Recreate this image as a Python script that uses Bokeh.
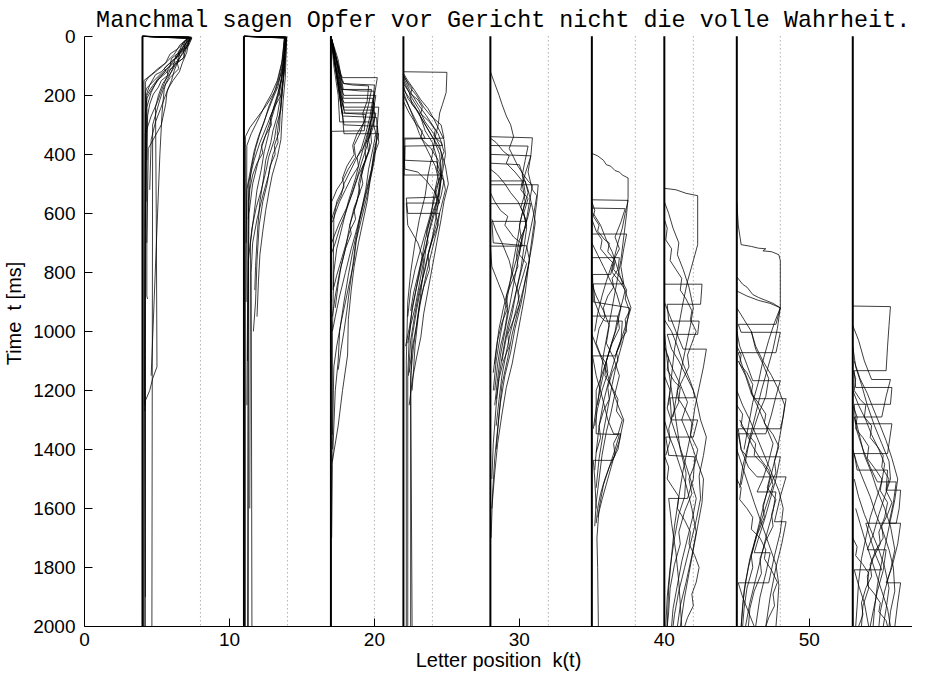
from bokeh.plotting import figure
from bokeh.models import Range1d, SingleIntervalTicker
from bokeh.core.properties import value
from bokeh.embed import file_html
from bokeh.resources import INLINE

# ---------------- data ----------------
sentence = "Manchmal sagen Opfer vor Gericht nicht die volle Wahrheit."
sentence_start_k = 0.8           # letter position where the printed sentence begins
word_centers = [4, 11, 17, 22, 28, 35, 40, 45, 53]
space_positions = [8, 14, 20, 24, 32, 38, 42, 48]
x_tick_interval = 10
y_tick_interval = 200
t_max = 2000
k_max = 57.12

# each path: list of (letter position k, time t [ms]) pairs
paths_manchmal = [
    [(4,0),(7.3,3),(7.0,25),(6.6,50),(6.2,80),(5.8,105),(5.2,140),(4.7,175),(4.3,210),(4.2,260),(4.15,900),(4.1,2000)],
    [(4,0),(7.4,6),(7.2,30),(6.8,45),(6.9,70),(6.3,95),(6.0,120),(5.4,160),(5.1,200),(4.9,240),(4.95,600),(5.0,1120),(4.7,1160),(4.5,1200),(4.2,1235),(4.15,1270)],
    [(4,0),(7.2,2),(6.8,20),(6.5,55),(6.0,75),(5.9,100),(5.3,125),(4.8,150),(4.3,175),(4.2,190),(4.2,2000)],
    [(4,0),(7.3,5),(7.1,35),(6.7,60),(6.4,90),(6.5,110),(5.9,140),(5.5,170),(5.2,215),(4.7,300),(4.65,2000)],
    [(4,0),(7.1,4),(6.9,40),(6.3,65),(6.1,105),(5.6,125),(5.0,150),(4.6,190),(4.3,240),(4.3,880),(4.35,890)],
    [(4,0),(7.3,3),(6.6,28),(6.2,60),(5.7,85),(5.4,100),(4.9,120),(4.4,140),(4.2,155),(4.15,1250)],
    [(4,0),(7.35,8),(7.15,18),(6.9,50),(6.5,78),(6.2,115),(6.0,150),(5.7,185),(5.6,230),(5.3,300),(4.4,380),(4.3,700)],
    [(4,0),(7.2,6),(6.9,30),(6.4,70),(5.8,95),(5.3,120),(4.9,130),(4.5,165),(4.25,200),(4.2,650)],
    [(4,0),(7.3,4),(7.0,45),(6.8,75),(6.2,95),(5.9,130),(5.6,160),(5.5,180),(5.4,230),(5.35,260),(5.2,400),(4.6,1150)],
    [(4,0),(7.4,3),(7.3,15),(6.95,35),(6.55,60),(6.45,85),(5.95,110),(5.65,140),(5.3,185),(5.05,220),(4.6,270),(4.2,330),(4.2,1900)],
    [(4,0),(7.15,5),(6.7,30),(6.35,45),(5.9,60),(5.6,90),(5.05,110),(4.6,130),(4.1,150),(4.1,2000)],
    [(4,0),(7.25,7),(7.05,55),(6.75,90),(6.55,120),(6.1,150),(5.8,175),(5.55,205),(5.25,245),(4.9,290),(4.6,350),(4.5,520)],
    [(4,0),(7.3,4),(7.1,20),(6.85,28),(6.95,42),(6.6,58),(6.3,70),(6.45,82),(6.0,96),(5.7,118),(5.75,132),(5.3,150),(5.1,172),(4.75,196),(4.5,230),(4.35,270),(4.3,420)],
    [(4,0),(7.2,3),(6.95,15),(6.75,38),(6.45,52),(6.55,66),(6.1,80),(5.85,92),(5.5,108),(5.6,118),(5.15,138),(4.85,158),(4.55,178),(4.3,200),(4.25,560)],
]

paths_sagen = [
    [(11,0),(13.9,3),(13.8,60),(13.6,120),(13.2,180),(12.6,230),(12.0,270),(11.4,310),(11.1,340),(11.1,2000)],
    [(11,0),(13.85,5),(13.75,80),(13.55,150),(13.3,200),(13.0,250),(12.6,300),(12.1,360),(11.7,420),(11.3,500),(11.3,2000)],
    [(11,0),(13.95,2),(13.85,90),(13.7,160),(13.55,230),(13.4,290),(13.3,330),(13.35,360),(13.0,400),(12.7,470),(12.3,540),(11.9,620),(11.6,700),(11.5,800),(11.55,2000)],
    [(11,0),(13.8,4),(13.7,70),(13.4,140),(13.1,190),(12.7,240),(12.4,290),(12.1,330),(11.8,380),(11.5,450),(11.3,560),(11.2,1250)],
    [(11,0),(13.9,6),(13.8,100),(13.65,170),(13.5,260),(13.45,320),(13.1,370),(13.15,400),(12.8,440),(12.6,500),(12.3,560),(12.05,640),(11.9,760),(11.8,900),(11.65,1000)],
    [(11,0),(13.85,3),(13.7,110),(13.5,180),(13.2,230),(12.9,280),(12.7,330),(12.4,390),(12.2,450),(11.9,520),(11.7,600),(11.45,700),(11.4,1600)],
    [(11,0),(13.9,4),(13.75,130),(13.5,210),(13.3,270),(13.0,320),(12.85,360),(12.5,420),(12.35,480),(12.1,560),(11.95,650),(11.8,780),(11.75,860)],
    [(11,0),(13.8,5),(13.6,90),(13.3,150),(12.9,195),(12.5,230),(12.15,265),(11.8,300),(11.5,330),(11.2,370),(11.15,900)],
    [(11,0),(13.95,3),(13.85,140),(13.7,220),(13.6,300),(13.55,350),(13.3,410),(12.95,470),(12.75,520),(12.5,590),(12.3,660),(12.1,740),(12.0,830),(11.9,950)],
    [(11,0),(13.9,2),(13.7,120),(13.4,190),(13.0,250),(12.8,290),(12.45,340),(12.2,380),(11.95,430),(11.6,500),(11.35,600),(11.25,1100)],
    [(11,0),(13.85,6),(13.7,150),(13.55,250),(13.25,300),(13.1,350),(12.7,410),(12.55,450),(12.2,520),(11.85,580),(11.55,650),(11.3,760),(11.25,2000)],
    [(11,0),(13.8,3),(13.6,110),(13.35,170),(13.0,210),(12.6,260),(12.3,300),(12.0,340),(11.7,390),(11.5,440),(11.2,520),(11.15,700)],
    [(11,0),(13.9,4),(13.8,50),(13.7,95),(13.6,140),(13.4,185),(13.5,205),(13.1,240),(12.8,275),(12.9,300),(12.5,335),(12.2,370),(12.3,395),(11.9,430),(11.6,470),(11.4,520),(11.3,620)],
]

paths_opfer = [
    [(17,0),(17.3,60),(17.7,130),(17.8,140),(20.2,140),(20.0,200),(19.8,280),(19.4,350),(19.0,420),(18.7,480),(18.2,560),(17.8,640),(17.4,720),(17.2,800),(17.1,1000)],
    [(17,0),(17.35,70),(17.75,150),(17.85,160),(20.0,165),(19.9,230),(19.7,300),(19.8,360),(19.3,430),(19.0,500),(18.8,560),(18.3,640),(18.0,720),(17.6,800),(17.3,880),(17.1,950)],
    [(17,0),(17.4,90),(17.8,190),(17.9,200),(20.1,200),(19.9,260),(19.6,320),(19.35,380),(19.4,420),(18.9,470),(18.5,530),(18.1,580),(17.6,630),(17.2,680),(17.05,700)],
    [(17,0),(17.3,100),(17.7,200),(17.9,225),(20.0,225),(19.95,300),(20.1,330),(19.9,380),(19.6,450),(19.4,520),(19.1,590),(18.8,660),(18.5,730),(18.2,810),(17.9,900),(17.6,1000),(17.5,1100),(17.3,1200),(17.1,1450),(17.05,1700)],
    [(17,0),(17.5,110),(17.85,230),(17.9,250),(19.9,250),(19.8,310),(19.5,370),(19.1,430),(18.8,480),(18.4,540),(18.0,600),(17.6,650),(17.3,700),(17.0,740)],
    [(17,0),(17.35,120),(17.7,240),(17.8,270),(20.15,275),(20.2,330),(20.0,420),(19.7,490),(19.5,560),(19.2,630),(18.9,700),(18.6,780),(18.4,860),(18.2,960),(18.15,1080),(17.8,1200),(17.5,1320),(17.1,1440)],
    [(17,0),(17.2,100),(17.5,200),(17.6,290),(19.7,290),(19.6,340),(19.2,380),(18.8,410),(18.9,440),(18.4,480),(18.0,520),(17.6,560),(17.3,600),(17.1,630)],
    [(17,0),(17.45,90),(17.8,180),(17.85,210),(19.9,210),(19.7,270),(19.4,330),(19.1,380),(18.7,420),(18.2,470),(17.9,500),(17.7,540),(17.3,580),(17.05,620)],
    [(17,0),(17.4,120),(17.8,260),(19.4,265),(19.3,320),(17.05,322),(17.05,900)],
    [(17,0),(17.3,110),(17.7,210),(17.85,240),(20.3,240),(20.2,300),(20.3,360),(20.0,400),(19.8,460),(19.5,540),(19.1,620),(18.7,700),(18.5,780),(18.3,850),(18.1,930),(17.9,1000),(17.7,1060),(17.5,1130)],
    [(17,0),(17.4,130),(17.75,250),(17.9,300),(20.2,305),(20.1,370),(19.85,440),(19.6,500),(19.3,560),(19.0,620),(18.75,690),(18.6,760),(18.3,830),(18.0,900),(17.7,970),(17.4,1050),(17.2,1120),(17.1,1400)],
    [(17,0),(17.3,90),(17.65,170),(17.7,180),(19.8,180),(19.6,230),(19.35,280),(19.0,330),(18.6,370),(18.7,410),(18.2,450),(17.8,490),(17.4,520),(17.15,550),(17.05,560)],
    [(17,0),(17.4,140),(17.8,270),(17.9,330),(20.3,330),(20.0,380),(19.8,450),(19.45,520),(19.15,580),(18.8,650),(18.4,720),(18.0,800),(17.6,880),(17.3,950),(17.1,1000),(17.1,1350)],
    [(17,0),(17.25,50),(17.55,120),(17.9,160),(18.5,165),(19.6,168),(19.5,220),(19.2,260),(19.3,290),(18.8,330),(18.5,370),(18.6,400),(18.1,440),(17.8,480),(17.9,510),(17.4,560),(17.2,620),(17.15,860)],
    [(17,0),(17.5,80),(17.85,180),(19.0,185),(20.0,186),(19.9,240),(20.05,270),(19.75,320),(19.5,360),(19.6,390),(19.2,440),(18.9,500),(19.0,530),(18.6,580),(18.3,640),(18.4,670),(18.0,720),(17.7,780),(17.5,840),(17.3,920)],
    [(17,0),(17.4,100),(17.75,220),(17.95,260),(20.1,260),(19.9,310),(19.6,350),(19.7,380),(19.4,420),(19.1,470),(19.2,500),(18.9,540),(18.6,590),(18.7,620),(18.3,660),(18.0,710),(17.7,760),(17.4,810),(17.2,850)],
]

paths_vor = [
    [(22,120),(25.0,122),(24.95,190),(24.7,230),(24.5,260),(24.4,300),(24.2,340),(24.0,400),(23.7,470),(23.5,540),(23.1,620),(22.8,700),(22.5,800),(22.3,900),(22.2,1100),(22.2,2000)],
    [(22,125),(22.3,150),(22.8,185),(23.2,215),(23.7,245),(24.1,280),(24.5,320),(24.8,350),(24.9,400),(24.7,460),(24.5,520),(24.2,590),(23.8,660),(23.4,740),(23.0,830),(22.6,920),(22.4,1020),(22.3,1150),(22.3,2000)],
    [(22,130),(22.4,170),(22.9,200),(23.4,240),(23.9,270),(24.6,300),(24.8,345),(22.1,348),(22.1,420),(24.3,425),(24.6,470),(24.5,530),(24.3,600),(24.0,680),(23.6,760),(23.2,850),(22.9,930),(22.6,1020),(22.5,1200),(22.5,2000)],
    [(22,140),(22.5,190),(23.0,230),(23.6,270),(24.0,300),(24.4,330),(24.7,370),(22.1,372),(22.05,470),(24.7,470),(24.9,520),(24.6,580),(24.2,650),(23.8,720),(23.5,790),(23.1,860),(22.8,940),(22.5,1030),(22.35,1150)],
    [(22,150),(22.6,210),(23.1,250),(23.5,290),(24.1,330),(24.5,370),(24.7,420),(24.6,480),(24.4,545),(22.2,548),(22.3,600),(24.5,600),(24.3,660),(24.0,720),(23.6,800),(23.3,870),(23.0,950),(22.7,1050),(22.5,1150),(22.6,2000)],
    [(22,160),(22.4,190),(22.6,230),(23.1,260),(23.5,320),(24.0,360),(24.3,410),(24.4,470),(24.1,540),(23.9,610),(23.5,690),(23.2,770),(22.9,850),(22.6,930),(22.4,990),(22.15,1050)],
    [(22,180),(22.7,230),(23.4,290),(24.0,340),(24.6,390),(24.9,440),(25.1,500),(24.8,560),(24.6,620),(24.3,700),(24.0,780),(23.7,860),(23.4,940),(23.2,1020),(22.9,1090),(22.6,1170),(22.4,1250)],
    [(22,200),(22.5,250),(23.0,300),(23.5,345),(22.0,345),(22.1,450),(23.0,460),(23.6,490),(24.2,530),(24.5,565),(22.2,565),(22.3,640),(23.0,700),(23.4,760),(23.1,840),(22.8,920),(22.5,980),(22.3,1040)],
    [(22,170),(22.3,210),(22.9,250),(23.5,300),(24.1,350),(24.5,400),(24.6,460),(24.3,520),(24.0,580),(23.6,650),(23.2,720),(22.8,790),(22.5,860),(22.3,950)],
    [(22,190),(22.4,240),(22.8,290),(23.1,330),(23.7,390),(24.2,440),(24.5,500),(24.3,560),(23.9,630),(23.6,700),(23.4,780),(23.2,870),(23.0,960),(22.8,1050),(22.7,1130),(22.6,1200)],
    [(22,135),(22.35,160),(22.6,175),(22.5,195),(23.0,215),(23.3,240),(23.2,262),(23.8,290),(24.2,318),(24.1,338),(24.6,360),(24.8,390),(24.5,430),(24.6,470),(24.2,520),(24.3,560),(23.9,610),(23.6,660),(23.7,700),(23.3,750),(23.0,810),(22.7,870),(22.5,930)],
    [(22,220),(22.4,260),(22.9,300),(23.3,320),(23.2,345),(23.9,380),(24.4,420),(24.3,450),(24.8,490),(24.6,540),(24.2,600),(24.4,640),(24.0,690),(23.7,740),(23.8,790),(23.4,850),(23.1,910),(22.9,980),(22.6,1060),(22.4,1140)],
]

paths_gericht = [
    [(28,120),(28.3,160),(28.6,200),(28.8,230),(29.1,270),(29.4,300),(29.6,340),(29.3,380),(29.6,410),(29.9,440),(30.3,470),(30.6,490),(30.9,505),(30.7,560),(30.5,620),(30.2,690),(29.9,760),(29.6,840),(29.3,920),(29.0,1000),(28.7,1080),(28.5,1160),(28.3,1250)],
    [(28,340),(30.9,344),(30.8,400),(30.6,460),(30.9,520),(31.2,540),(31.0,600),(30.7,670),(30.4,740),(30.0,820),(29.6,900),(29.2,980),(28.9,1060),(28.6,1150),(28.4,1250),(28.2,1380),(28.1,1500)],
    [(28,370),(30.6,372),(30.4,420),(30.2,470),(30.4,530),(30.1,580),(30.5,627),(28.1,627),(28.2,700),(30.5,710),(30.7,760),(30.4,830),(30.1,910),(29.7,990),(29.4,1070),(29.0,1150),(28.7,1240),(28.5,1330),(28.3,1430),(28.15,1550),(28.05,1700)],
    [(28,400),(30.8,405),(30.5,450),(30.2,500),(30.4,560),(30.1,620),(29.9,680),(29.6,760),(29.3,850),(29.0,930),(28.7,1010),(28.4,1100),(28.2,1200)],
    [(28,430),(30.0,435),(30.3,480),(30.6,520),(30.9,580),(31.1,630),(30.9,700),(30.6,780),(30.3,850),(29.9,930),(29.5,1010),(29.2,1090),(28.8,1180),(28.6,1280),(28.4,1400)],
    [(28,490),(30.4,490),(30.6,530),(30.3,580),(30.0,640),(30.2,711),(28.0,711),(28.1,780),(28.5,830),(28.9,880),(29.2,930),(29.0,990),(28.7,1050),(28.5,1110),(28.3,1200)],
    [(28,567),(30.8,567),(30.6,610),(30.3,660),(30.0,720),(29.6,790),(29.2,860),(28.9,920),(28.6,990),(28.4,1060),(28.2,1140)],
    [(28,503),(31.3,503),(31.2,560),(31.0,640),(30.8,710),(30.6,790),(30.4,870),(30.1,950),(29.8,1030),(29.5,1110),(29.1,1190),(28.8,1280),(28.5,1380),(28.3,1480),(28.1,1600)],
    [(28.1,620),(28.4,660),(28.8,700),(29.3,760),(29.6,820),(30.0,880),(29.7,940),(29.4,1000),(29.1,1070),(28.8,1150),(28.6,1230),(28.4,1320)],
    [(28,450),(28.5,470),(29.0,500),(29.4,530),(29.9,560),(30.3,600),(30.5,650),(30.3,720),(30.1,790),(29.8,860),(29.5,940),(29.1,1020),(28.8,1100)],
    [(28,345),(28.4,360),(28.9,390),(29.3,405),(29.1,430),(29.7,460),(30.2,490),(30.1,520),(30.6,550),(30.3,600),(30.5,640),(30.0,690),(29.8,740),(29.9,780),(29.5,830),(29.1,880),(29.2,920),(28.8,970),(28.5,1030),(28.3,1110)],
    [(28,530),(28.3,560),(28.7,590),(29.2,610),(29.0,640),(29.6,680),(30.1,700),(30.0,740),(30.5,770),(30.2,820),(29.9,870),(30.0,910),(29.6,960),(29.2,1010),(29.3,1050),(28.9,1100),(28.6,1160),(28.4,1230)],
]

paths_nicht = [
    [(35,397),(35.4,405),(35.8,420),(36.0,435),(36.3,440),(36.6,455),(36.9,460),(37.1,470),(37.5,480),(37.5,546),(37.4,600),(37.2,680),(37.0,760),(36.7,840),(36.4,920),(36.1,1000),(35.8,1080),(35.6,1160),(35.4,1250)],
    [(35,554),(37.5,556),(37.3,600),(37.1,650),(36.8,700),(36.5,760),(36.3,807),(35.05,807),(35.1,900),(37.6,920),(37.4,980),(37.1,1040),(36.7,1110),(36.4,1180),(36.1,1260),(35.8,1340),(35.5,1430),(35.3,1530)],
    [(35,582),(37.3,584),(37.0,630),(36.6,680),(36.9,720),(36.4,770),(36.0,830),(35.7,880),(35.4,940),(35.2,1000)],
    [(35,670),(37.4,670),(37.2,720),(37.0,780),(37.2,839),(35.1,839),(35.2,900),(35.6,950),(35.9,965),(37.1,965),(37.0,1040),(36.6,1083),(35.05,1083),(35.3,1150),(35.7,1220),(36.1,1300),(36.5,1347),(37.0,1347),(36.8,1400),(36.4,1437),(35.1,1437),(35.2,1500),(35.3,1600)],
    [(35.1,600),(35.6,640),(36.0,690),(36.4,730),(36.8,790),(37.2,850),(37.7,920),(37.4,970),(37.0,1030),(36.6,1090),(36.2,1160),(35.8,1240),(35.5,1320),(35.3,1410)],
    [(35,948),(36.8,948),(36.6,1000),(36.3,1050),(36.0,1100),(35.6,1160),(35.3,1200),(35.3,1347),(36.9,1350),(36.6,1400),(36.2,1460),(35.8,1520),(35.5,1600),(35.35,1700),(35.4,1800),(35.45,2000)],
    [(35,700),(35.4,740),(35.8,780),(36.3,830),(36.7,870),(37.0,920),(36.7,990),(36.3,1050),(35.9,1120),(35.6,1190),(35.3,1260),(35.1,1330)],
    [(35,840),(35.3,880),(35.8,930),(36.2,980),(36.0,1040),(36.5,1090),(36.9,1150),(36.6,1210),(36.3,1280),(36.0,1340),(35.7,1420),(35.5,1500),(35.3,1580),(35.2,1660)],
    [(35,1010),(35.4,1060),(35.9,1120),(36.3,1180),(36.8,1250),(37.2,1300),(36.9,1370),(36.5,1430),(36.1,1500),(35.7,1570),(35.4,1630)],
    [(35,620),(35.3,660),(35.7,690),(35.6,720),(36.1,750),(36.5,770),(36.4,800),(36.9,830),(37.3,860),(37.1,900),(36.8,950),(36.9,990),(36.4,1040),(36.0,1100),(36.1,1140),(35.7,1200),(35.4,1260),(35.2,1320)],
    [(35,560),(35.2,590),(35.1,610),(35.5,640),(35.4,660),(35.9,690),(36.2,700),(36.1,730),(36.6,760),(36.5,790),(37.0,820),(37.4,860),(37.3,890),(37.6,930),(37.3,960),(37.4,1000),(37.0,1030),(36.7,1070),(36.8,1100),(36.4,1140),(36.1,1190),(36.2,1230),(35.8,1270),(35.5,1320),(35.6,1360),(35.3,1410),(35.2,1470)],
    [(35,750),(36.9,750),(36.8,790),(36.4,820),(36.5,850),(36.1,880),(35.8,920),(35.9,950),(35.5,990),(35.3,1040),(35.6,1080),(36.0,1110),(35.9,1150),(36.4,1190),(36.8,1230),(36.7,1270),(37.1,1300),(36.8,1350),(36.5,1380),(36.6,1420),(36.2,1460),(35.9,1500),(35.6,1550),(35.4,1600),(35.3,1650)],
]

paths_die = [
    [(40,515),(40.8,520),(41.5,532),(42.3,540),(42.3,706),(42.0,760),(41.6,830),(41.3,900),(41.0,980),(40.7,1060),(40.5,1150),(40.3,1250)],
    [(40,560),(40.3,600),(40.6,650),(41.0,700),(40.9,740),(41.3,790),(41.7,850),(42.0,920),(41.8,980),(41.5,1050),(41.2,1120),(40.9,1200),(40.6,1290)],
    [(40,840),(42.6,840),(42.5,908),(40.2,908),(40.3,965),(42.4,965),(42.3,1010),(40.2,1010),(40.5,1060),(41.0,1100),(41.5,1150),(42.0,1200),(42.1,1225),(40.4,1225),(40.5,1300),(42.3,1300),(42.0,1358),(40.1,1358),(40.3,1420),(42.1,1425),(42.0,1500),(41.6,1566),(40.3,1566),(40.5,1650),(40.8,1750),(41.0,1850),(41.2,2000)],
    [(40,900),(40.4,950),(40.8,1000),(41.3,1060),(42.9,1060),(42.7,1120),(42.4,1190),(42.1,1260),(41.9,1330),(41.6,1400),(41.3,1470),(41.0,1560),(40.7,1660),(40.5,1760),(40.3,1870),(40.2,2000)],
    [(40,960),(40.5,1000),(40.9,1050),(41.3,1110),(41.8,1170),(42.2,1230),(42.5,1300),(42.9,1358),(42.7,1420),(42.4,1490),(42.5,1566),(42.2,1640),(41.8,1720),(41.4,1800),(41.0,1880),(40.7,1960),(40.6,2000)],
    [(40.2,1080),(40.6,1130),(41.1,1180),(41.6,1240),(41.2,1300),(41.7,1360),(42.2,1430),(42.7,1500),(42.6,1580),(42.3,1660),(42.0,1740),(41.7,1820),(41.4,1900),(41.1,2000)],
    [(40,1150),(40.4,1200),(40.2,1260),(40.6,1320),(41.0,1380),(41.4,1440),(41.8,1500),(42.2,1566),(42.0,1620),(41.6,1700),(41.2,1780),(40.9,1860),(40.6,1940),(40.5,2000)],
    [(40,1300),(40.3,1350),(40.7,1400),(41.1,1460),(41.5,1520),(41.9,1600),(42.2,1680),(41.9,1760),(41.5,1850),(41.1,1930),(40.9,2000)],
    [(40,1000),(40.2,1100),(40.5,1200),(40.8,1300),(41.1,1400),(41.5,1480),(41.4,1560),(41.0,1620),(40.7,1700),(40.4,1800),(40.2,1900),(40.1,2000)],
    [(40,1050),(40.3,1090),(40.2,1130),(40.7,1170),(41.1,1190),(41.0,1230),(41.5,1270),(41.9,1310),(41.8,1350),(42.3,1400),(42.1,1450),(41.7,1500),(41.9,1550),(41.4,1610),(41.0,1680),(41.1,1720),(40.7,1790),(40.4,1870),(40.3,1950),(40.2,2000)],
    [(40,620),(40.2,650),(40.1,690),(40.5,720),(40.4,760),(40.8,790),(41.2,820),(41.1,860),(41.5,890),(41.9,930),(41.8,960),(42.2,1000),(41.9,1040),(41.6,1080),(41.7,1120),(41.3,1160),(40.9,1200),(41.0,1240),(40.6,1280),(40.3,1330),(40.4,1370),(40.1,1420)],
    [(40,1420),(40.3,1460),(40.2,1500),(40.6,1530),(41.0,1560),(40.9,1600),(41.4,1640),(41.8,1680),(41.7,1720),(42.1,1760),(42.4,1800),(42.2,1850),(41.9,1890),(42.0,1930),(41.6,1970),(41.4,2000)],
]

paths_volle = [
    [(45,560),(45.1,640),(45.3,706),(46.0,712),(46.5,718),(47.0,720),(46.8,727),(47.4,730),(47.9,740),(48.0,760),(48.0,920),(47.6,970),(47.2,1030),(46.8,1100),(46.5,1170),(46.1,1240),(45.8,1320),(45.5,1400)],
    [(45,815),(45.4,840),(45.7,850),(46.1,875),(46.5,885),(47.0,895),(47.5,905),(48.0,920),(47.8,990),(47.5,1060),(47.1,1130),(46.7,1200),(46.3,1280),(45.9,1360),(45.6,1440),(45.3,1520)],
    [(45,863),(45.7,880),(46.5,895),(47.3,905),(48.0,920),(47.7,976),(45.1,976),(45.3,1003),(48.0,1003),(47.7,1072),(45.1,1072),(45.4,1120),(45.8,1170),(46.2,1228),(48.4,1228),(48.2,1290),(48.0,1330),(45.1,1330),(45.3,1400),(45.8,1460),(46.4,1493),(48.4,1493),(48.0,1560),(47.6,1645),(48.4,1645),(48.1,1720),(47.7,1800),(47.3,1900),(47.0,2000)],
    [(45,920),(45.5,960),(46.0,1000),(46.3,1050),(46.8,1100),(47.4,1150),(47.9,1200),(48.3,1250),(48.1,1320),(47.8,1400),(47.4,1480),(47.0,1560),(46.6,1640),(46.2,1720),(45.8,1800),(45.5,1880),(45.3,2000)],
    [(45,1000),(45.2,1050),(45.6,1100),(46.1,1167),(48.0,1167),(47.7,1220),(47.4,1280),(47.0,1347),(45.1,1347),(45.3,1400),(45.7,1425),(48.0,1425),(47.7,1500),(47.3,1570),(46.9,1640),(46.5,1700),(46.2,1750),(47.3,1750),(47.0,1820),(46.6,1900),(46.3,2000)],
    [(45.1,1100),(45.6,1150),(46.0,1210),(46.5,1260),(47.0,1320),(47.5,1380),(47.2,1440),(46.8,1500),(46.4,1544),(47.7,1544),(47.5,1610),(47.1,1680),(46.7,1760),(46.3,1840),(45.9,1920),(45.6,2000)],
    [(45,1200),(45.4,1250),(45.9,1300),(46.4,1360),(46.9,1420),(47.4,1480),(47.9,1540),(48.2,1600),(48.0,1680),(47.6,1760),(47.2,1852),(45.1,1852),(45.4,1900),(45.8,1950),(46.2,2000)],
    [(45.2,1300),(45.6,1340),(46.1,1390),(46.6,1430),(47.2,1470),(47.5,1520),(47.1,1580),(46.7,1640),(46.3,1700),(45.9,1770),(45.6,1850),(45.4,1930),(45.3,2000)],
    [(45,1400),(45.4,1460),(45.8,1520),(46.2,1580),(46.7,1650),(47.2,1720),(47.7,1790),(47.9,1860),(47.8,1940),(47.7,2000)],
    [(46.0,1000),(46.3,1060),(46.8,1110),(47.2,1160),(47.0,1220),(46.5,1280),(46.1,1340),(45.7,1400),(45.4,1460),(45.2,1530)],
    [(45,1050),(45.3,1080),(45.2,1110),(45.7,1140),(46.1,1180),(46.0,1210),(46.6,1250),(47.0,1280),(46.9,1310),(47.5,1350),(47.9,1390),(47.6,1440),(47.7,1480),(47.2,1530),(46.8,1590),(46.9,1630),(46.4,1690),(46.0,1760),(46.1,1800),(45.7,1870),(45.5,1940),(45.4,2000)],
    [(45,1250),(45.4,1280),(45.3,1320),(45.8,1350),(46.3,1380),(46.2,1420),(46.8,1450),(47.3,1490),(47.1,1530),(47.7,1570),(47.4,1620),(47.5,1660),(47.0,1710),(46.6,1770),(46.7,1820),(46.2,1880),(45.9,1940),(45.8,2000)],
    [(45,1500),(45.3,1530),(45.2,1570),(45.7,1600),(46.1,1630),(46.0,1670),(46.6,1700),(47.0,1740),(46.9,1770),(47.4,1810),(47.8,1850),(47.5,1890),(47.6,1930),(47.2,1970),(47.0,2000)],
]

paths_wahrheit = [
    [(53,914),(55.6,916),(55.5,980),(55.4,1050),(55.3,1133),(53.1,1133),(53.2,1190),(55.7,1190),(55.6,1247),(53.1,1247),(53.2,1313),(55.7,1313),(55.5,1380),(55.4,1414),(53.1,1414),(53.3,1470),(55.4,1470),(55.3,1538),(56.3,1538),(56.2,1600),(56.0,1650),(53.9,1650),(54.2,1700),(54.6,1760),(55.0,1808),(53.1,1808),(53.4,1860),(53.8,1920),(54.1,2000)],
    [(53,980),(53.4,1030),(53.8,1100),(54.3,1163),(55.6,1163),(55.3,1220),(55.0,1290),(53.1,1290),(53.3,1340),(53.7,1400),(54.2,1460),(54.7,1510),(56.0,1510),(55.8,1580),(55.5,1650),(56.3,1650),(56.1,1720),(55.7,1800),(55.3,1852),(56.3,1852),(56.1,1920),(55.9,2000)],
    [(53,1050),(53.2,1120),(53.6,1180),(54.0,1250),(54.5,1320),(55.0,1380),(55.5,1440),(55.6,1500),(55.2,1560),(54.8,1620),(54.4,1690),(54.0,1740),(55.3,1740),(55.1,1810),(54.7,1880),(54.4,1950),(54.2,2000)],
    [(53.1,1100),(53.5,1160),(54.0,1210),(54.4,1260),(54.9,1320),(55.3,1370),(55.7,1430),(56.1,1500),(55.9,1570),(55.6,1640),(55.3,1710),(55.0,1780),(54.7,1860),(54.5,1940),(54.4,2000)],
    [(53,1200),(53.4,1250),(53.9,1300),(54.3,1350),(54.8,1400),(55.2,1450),(55.0,1510),(54.6,1570),(54.2,1630),(53.9,1700),(53.6,1770),(53.4,1850),(53.3,1930),(53.2,2000)],
    [(53.2,1300),(53.5,1360),(53.8,1420),(54.3,1480),(54.7,1540),(55.2,1600),(55.6,1660),(55.9,1740),(55.6,1810),(55.2,1880),(54.9,1950),(54.8,2000)],
    [(53,1400),(53.3,1450),(53.7,1500),(54.2,1560),(54.6,1620),(55.1,1680),(55.5,1740),(55.8,1800),(55.9,1880),(55.6,1950),(55.5,2000)],
    [(53.1,1500),(53.4,1560),(53.8,1620),(54.3,1680),(54.8,1740),(55.2,1800),(55.5,1870),(55.3,1940),(55.1,2000)],
    [(53.2,1600),(53.5,1650),(53.8,1700),(54.2,1760),(54.6,1820),(55.0,1880),(55.4,1940),(55.6,2000)],
    [(53,1250),(53.3,1290),(53.2,1330),(53.7,1360),(54.1,1390),(54.0,1430),(54.6,1470),(55.0,1500),(54.9,1540),(55.4,1580),(55.2,1630),(54.8,1680),(54.9,1720),(54.4,1770),(54.0,1830),(54.1,1870),(53.7,1930),(53.6,2000)],
    [(53,1130),(53.2,1160),(53.1,1200),(53.5,1230),(53.9,1250),(53.8,1290),(54.3,1320),(54.2,1360),(54.7,1390),(55.1,1420),(55.0,1460),(55.5,1500),(55.3,1540),(55.7,1580),(55.4,1620),(55.0,1660),(55.1,1700),(54.6,1740),(54.2,1790),(54.3,1830),(53.9,1870),(53.6,1920),(53.7,1960),(53.4,2000)],
    [(53,1700),(53.3,1730),(53.2,1760),(53.7,1790),(54.1,1820),(54.0,1860),(54.5,1890),(54.9,1920),(54.8,1950),(55.3,1980),(55.4,2000)],
]

all_paths = (paths_manchmal + paths_sagen + paths_opfer + paths_vor + paths_gericht
             + paths_nicht + paths_die + paths_volle + paths_wahrheit)

# ---------------- layout ----------------
FIG_W, FIG_H = 912, 673
BORDER_L, BORDER_B = 78, 44
ZERO_PX_FROM_TOP = 36                      # pixels between canvas top and t = 0
frame_h = FIG_H - BORDER_B
t_top = -ZERO_PX_FROM_TOP * t_max / (frame_h - ZERO_PX_FROM_TOP)

p = figure(width=FIG_W, height=FIG_H,
           x_range=Range1d(0, k_max), y_range=Range1d(t_max, t_top),
           output_backend="svg", toolbar_location=None,
           min_border_left=BORDER_L, min_border_right=0,
           min_border_top=0, min_border_bottom=BORDER_B)
p.outline_line_color = None
p.xgrid.visible = False
p.ygrid.visible = False
p.background_fill_color = "white"
p.border_fill_color = "white"

# dotted lines at the blanks between words
p.segment(x0=space_positions, y0=[0] * len(space_positions),
          x1=space_positions, y1=[t_max] * len(space_positions),
          line_color="#8c8c8c", line_width=1, line_dash="1 3")

# trajectories
xs = [[pt[0] for pt in path] for path in all_paths]
ys = [[pt[1] for pt in path] for path in all_paths]
p.multi_line(xs=xs, ys=ys, line_color="black", line_width=0.8, line_alpha=0.95)

# solid lines at word centres
p.segment(x0=word_centers, y0=[0] * len(word_centers),
          x1=word_centers, y1=[t_max] * len(word_centers),
          line_color="black", line_width=2)

# the sentence, printed in a monospace font above the time axis origin
p.text(x=[sentence_start_k], y=[t_top * 0.42], text=[sentence],
       text_font=value("Liberation Mono"), text_font_size="23.4px",
       text_color="black", text_align="left", text_baseline="alphabetic")

# axes
for ax in (p.xaxis, p.yaxis):
    ax.axis_line_color = "black"
    ax.axis_line_width = 1
    ax.major_tick_in = 8
    ax.major_tick_out = 0
    ax.minor_tick_line_color = None
    ax.major_tick_line_color = "black"
    ax.major_label_text_font = "Liberation Sans"
    ax.major_label_text_font_size = "19px"
    ax.major_label_text_color = "black"
    ax.axis_label_text_font = "Liberation Sans"
    ax.axis_label_text_font_size = "20px"
    ax.axis_label_text_font_style = "normal"
    ax.axis_label_text_color = "black"

p.yaxis.bounds = (0, t_max)
p.xaxis.ticker = SingleIntervalTicker(interval=x_tick_interval)
p.yaxis.ticker = SingleIntervalTicker(interval=y_tick_interval)
p.xaxis.axis_label = "Letter position\u00a0\u00a0k(t)"
p.yaxis.axis_label = "Time\u00a0\u00a0t [ms]"
p.xaxis.major_label_standoff = 2
p.xaxis.axis_label_standoff = 0
p.yaxis.major_label_standoff = 5
p.yaxis.axis_label_standoff = 5

open("out.html", "w").write(file_html(p, INLINE))
